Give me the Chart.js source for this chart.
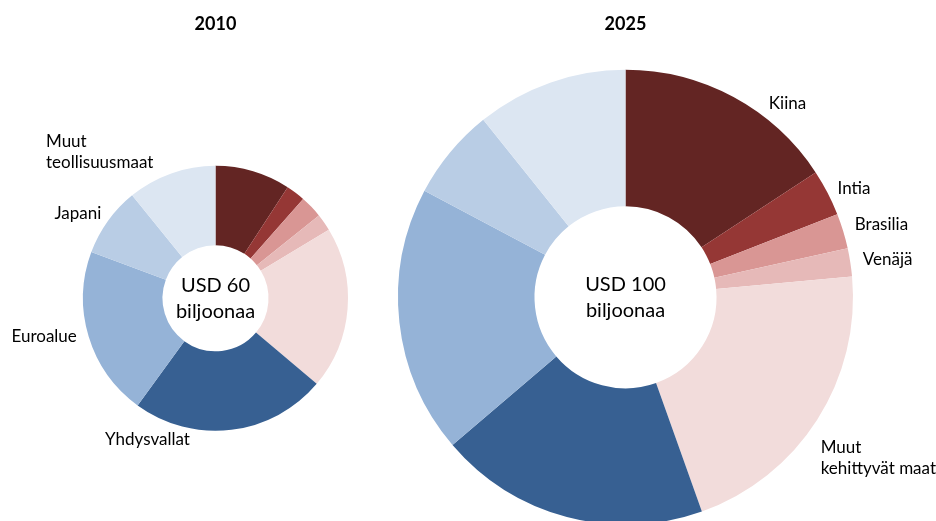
<!DOCTYPE html>
<html>
<head>
<meta charset="utf-8">
<script src="https://cdn.jsdelivr.net/npm/chart.js@4/dist/chart.umd.min.js"></script>
<style>
  html, body { margin: 0; padding: 0; background: #fff; overflow: hidden; width: 936px; height: 521px; }
  canvas { position: absolute; top: 0; }
  #chart_2010 { left: 0; }
  #chart_2025 { left: 315px; }
</style>
</head>
<body>
<canvas id="chart_2010" width="431" height="521"></canvas>
<canvas id="chart_2025" width="621" height="530"></canvas>
<script>
// USD biljoonaa (trillions)
var categories = ['Kiina', 'Intia', 'Brasilia', 'Venäjä', ['Muut', 'kehittyvät maat'],
                  'Yhdysvallat', 'Euroalue', 'Japani', ['Muut', 'teollisuusmaat']];
var values_2010 = [5.5, 1.4, 1.65, 1.25, 11.9, 14.3, 12.4, 5.1, 6.5];
var values_2025 = [15.75, 3.3, 2.5, 2.0, 21.0, 19.2, 19.0, 6.5, 10.75];
var totals = ['USD 60', 'USD 100'];

var colors = ['#632523', '#953735', '#d99694', '#e6b9b8', '#f2dcdb',
              '#376092', '#95b3d7', '#b9cde5', '#dce6f2'];

var FONT = 'Lato, "Open Sans", sans-serif';

// text inside the hole + category labels around the ring
var textPlugin = {
  id: 'ringText',
  afterDraw: function(chart, args, opts) {
    var ctx = chart.ctx;
    var arcs = chart.getDatasetMeta(0).data;
    var cx = arcs[0].x, cy = arcs[0].y;
    ctx.save();
    ctx.fillStyle = '#000';
    ctx.textAlign = 'center';
    ctx.textBaseline = 'alphabetic';
    ctx.font = '20px ' + FONT;
    ctx.fillText(opts.center, cx, cy - 6);
    ctx.fillText('biljoonaa', cx, cy + 20);

    ctx.textAlign = 'left';
    ctx.font = '17px ' + FONT;
    opts.show.forEach(function(item) {
      var lbl = chart.data.labels[item[0]];
      var lines = Array.isArray(lbl) ? lbl : [lbl];
      lines.forEach(function(line, k) {
        ctx.fillText(line, cx + item[1], cy + item[2] + k * 21);
      });
    });
    ctx.restore();
  }
};

function makeConfig(year, values, center, titleBottom, padBottom, show) {
  return {
    type: 'doughnut',
    data: {
      labels: categories,
      datasets: [{
        data: values,
        backgroundColor: colors,
        borderWidth: 0,
        hoverOffset: 0
      }]
    },
    options: {
      responsive: false,
      animation: false,
      cutout: '40%',
      layout: { padding: { left: 83, right: 83, top: 0, bottom: padBottom } },
      plugins: {
        legend: { display: false },
        tooltip: { enabled: false },
        title: {
          display: true,
          text: year,
          color: '#000',
          font: { family: FONT, size: 18, weight: 'bold' },
          padding: { top: 13, bottom: titleBottom }
        },
        ringText: { center: center, show: show }
      }
    },
    plugins: [textPlugin]
  };
}

window.onload = function() {
  var ctx_2010 = document.getElementById('chart_2010').getContext('2d');
  new Chart(ctx_2010, makeConfig('2010', values_2010, totals[0], 130, 89,
    [[8, -169.5, -151.5], [7, -161, -79.5], [6, -204, 43.5], [5, -110.5, 147]]));

  var ctx_2025 = document.getElementById('chart_2025').getContext('2d');
  new Chart(ctx_2025, makeConfig('2025', values_2025, totals[1], 34, 4,
    [[0, 143.3, -188.5], [1, 212, -103.5], [2, 229.3, -67.5], [3, 237.3, -32.5], [4, 195.2, 155.5]]));
};
</script>
</body>
</html>
